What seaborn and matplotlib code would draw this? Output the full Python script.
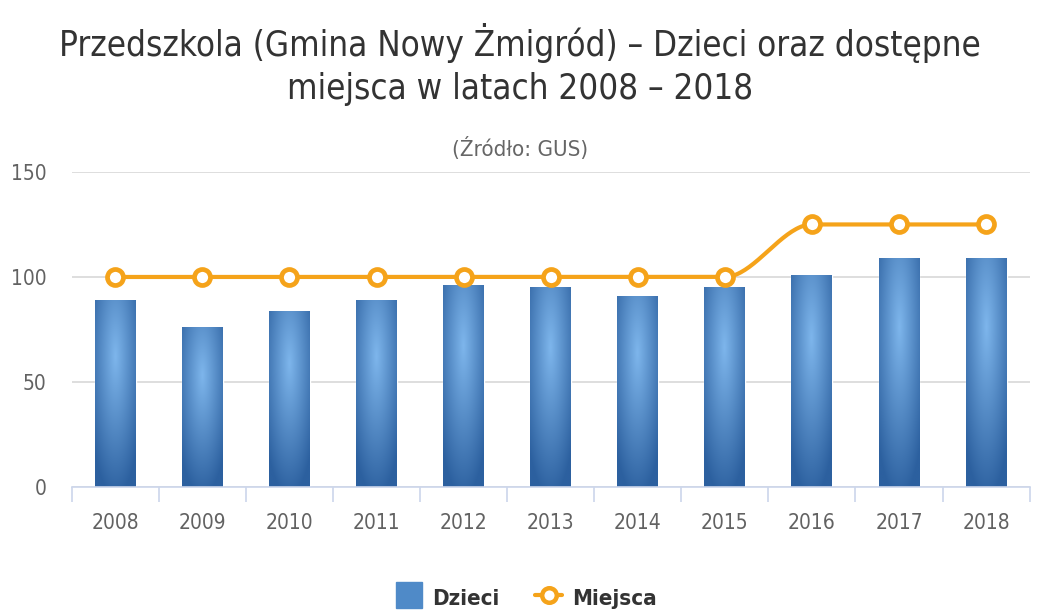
import numpy as np
import pandas as pd
import matplotlib
matplotlib.use("Agg")
import matplotlib.pyplot as plt
import seaborn as sns
from matplotlib.lines import Line2D

years = ["2008", "2009", "2010", "2011", "2012", "2013", "2014", "2015", "2016", "2017", "2018"]
dzieci = [89, 76, 84, 89, 96, 95, 91, 95, 101, 109, 109]
miejsca = [100, 100, 100, 100, 100, 100, 100, 100, 125, 125, 125]

title = "Przedszkola (Gmina Nowy Żmigród) – Dzieci oraz dostępne\nmiejsca w latach 2008 – 2018"
subtitle = "(Źródło: GUS)"

ORANGE = "#f5a31a"
BLUE = "#4f8ac8"

sns.set_theme(style="white")
plt.rcParams["font.family"] = ["DejaVu Sans"]

fig = plt.figure(figsize=(10.4, 6.13), dpi=100)
ax = fig.add_axes([0.069, 0.2055, 0.921, 0.514])

df = pd.DataFrame({"year": years, "Dzieci": dzieci})
sns.barplot(data=df, x="year", y="Dzieci", color=BLUE, width=0.47, ax=ax,
            saturation=1, zorder=2)

# radial gradient fill on each bar (bbox-relative, centre in upper part)
light = np.array([0x7e, 0xb6, 0xec]) / 255
dark = np.array([0x2c, 0x60, 0x9f]) / 255
gy, gx = np.mgrid[0:1:300j, 0:1:60j]
for p in list(ax.patches):
    x0, y0 = p.get_x(), p.get_y()
    w, h = p.get_width(), p.get_height()
    dxn = (gx - 0.5) / 0.72
    dyn = (gy - 0.7) / 0.75
    t = np.clip(np.sqrt(dxn ** 2 + dyn ** 2), 0, 1)
    img = light[None, None, :] * (1 - t[..., None]) + dark[None, None, :] * t[..., None]
    im = ax.imshow(img, extent=(x0, x0 + w, y0, y0 + h), origin="lower",
                   aspect="auto", zorder=2.5, interpolation="bilinear")
    im.set_clip_path(p)

# smooth line (monotone cubic Hermite) through data points
xs = np.arange(len(years), dtype=float)
ys = np.array(miejsca, dtype=float)
dseg = np.diff(ys) / np.diff(xs)
m = np.zeros_like(ys)
m[0], m[-1] = dseg[0], dseg[-1]
for i in range(1, len(ys) - 1):
    if dseg[i - 1] * dseg[i] <= 0:
        m[i] = 0
    else:
        m[i] = 2 / (1 / dseg[i - 1] + 1 / dseg[i])
xx, yy = [], []
for i in range(len(ys) - 1):
    t = np.linspace(0, 1, 40)
    h00 = 2 * t**3 - 3 * t**2 + 1
    h10 = t**3 - 2 * t**2 + t
    h01 = -2 * t**3 + 3 * t**2
    h11 = t**3 - t**2
    xx.append(xs[i] + t)
    yy.append(h00 * ys[i] + h10 * m[i] + h01 * ys[i + 1] + h11 * m[i + 1])
ax.plot(np.concatenate(xx), np.concatenate(yy), color=ORANGE, lw=3, zorder=4,
        solid_capstyle="round")
ax.plot(xs, ys, linestyle="none", marker="o", markersize=11.5, markerfacecolor="white",
        markeredgecolor=ORANGE, markeredgewidth=3.4, zorder=5)

ax.set_xlim(-0.5, len(years) - 0.5)
ax.set_ylim(0, 150)
ax.set_yticks([0, 50, 100, 150])
ax.set_xlabel("")
ax.set_ylabel("")

for s in ["left", "right", "top"]:
    ax.spines[s].set_visible(False)
ax.spines["bottom"].set_color("#ccd6eb")
ax.spines["bottom"].set_linewidth(1.2)
ax.yaxis.grid(True, color="#d8d8d8", lw=1.2, zorder=0)
ax.set_axisbelow(True)

ax.set_xticks(np.arange(-0.5, len(years)), minor=True)
ax.tick_params(axis="x", which="minor", length=11, width=1.2, color="#ccd6eb",
               direction="out", bottom=True)
ax.tick_params(axis="x", which="major", length=0, pad=19, labelsize=15, labelcolor="#626262")
ax.tick_params(axis="y", length=0, pad=18, labelsize=15, labelcolor="#626262")
for lab in ax.get_xticklabels() + ax.get_yticklabels():
    lab.set_fontstretch("condensed")

fig.text(0.5, 0.895, title, ha="center", va="center", fontsize=25, color="#333333",
         linespacing=1.32, fontstretch="condensed")
fig.text(0.5, 0.757, subtitle, ha="center", va="center", fontsize=16, color="#666666",
         fontstretch="condensed")

handles = [
    Line2D([0], [0], linestyle="none", marker="s", markersize=19, color=BLUE),
    Line2D([0], [0], color=ORANGE, lw=3, marker="o", markersize=10.5,
           markerfacecolor="white", markeredgecolor=ORANGE, markeredgewidth=3.2),
]
leg = fig.legend(handles, ["Dzieci", "Miejsca"], loc="center", bbox_to_anchor=(0.506, 0.026),
                 ncol=2, frameon=False, prop={"weight": "bold", "size": 16, "stretch": "condensed"},
                 handlelength=1.2, handleheight=1.2, columnspacing=1.6, handletextpad=0.45)
for t in leg.get_texts():
    t.set_color("#333333")

fig.savefig("out.png", dpi=100, facecolor="white")
